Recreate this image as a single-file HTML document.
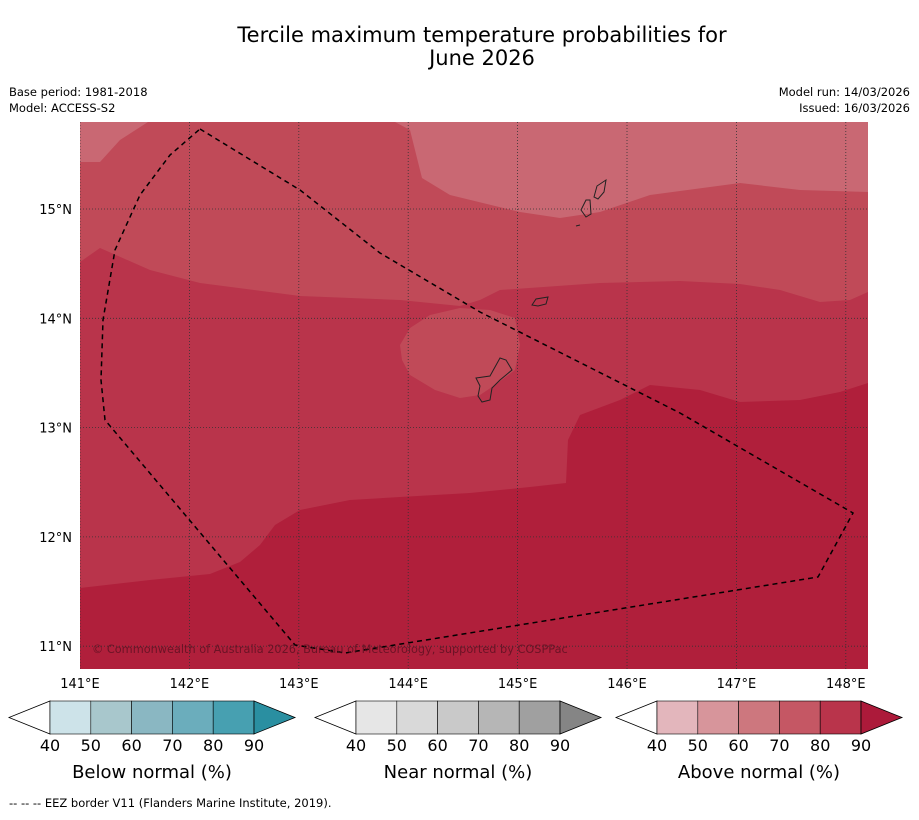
<!DOCTYPE html>
<html><head><meta charset="utf-8"><style>
body{margin:0;background:#fff;font-family:"DejaVu Sans","Liberation Sans",sans-serif;}
svg text{font-family:"DejaVu Sans","Liberation Sans",sans-serif;}
</style></head><body>
<svg id="s" width="919" height="816" xmlns="http://www.w3.org/2000/svg">
<rect width="919" height="816" fill="#fff"/>
<text x="482" y="42" font-size="21" text-anchor="middle">Tercile maximum temperature probabilities for</text>
<text x="482" y="65" font-size="21" text-anchor="middle">June 2026</text>
<text x="9" y="96" font-size="11.5">Base period: 1981-2018</text>
<text x="9" y="112" font-size="11.5">Model: ACCESS-S2</text>
<text x="910" y="96" font-size="11.5" text-anchor="end">Model run: 14/03/2026</text>
<text x="910" y="112" font-size="11.5" text-anchor="end">Issued: 16/03/2026</text>
<defs><clipPath id="mc"><rect x="80" y="122" width="788" height="547"/></clipPath></defs>
<g clip-path="url(#mc)">
<rect x="80" y="122" width="788" height="547" fill="#b9344b"/>
<polygon fill="#c04a58" points="80,122 868,122 868,292 850,300 820,302 780,290 740,284 680,281 600,283 500,290 480,300 460,306 400,300 300,296 200,283 150,270 100,248 80,262"/>
<polygon fill="#c04a58" points="400,345 410,328 430,315 460,308 490,310 515,318 520,345 515,370 495,385 480,395 460,398 435,390 410,375 402,360"/>
<polygon fill="#c96873" points="80,122 148,122 120,140 100,162 80,162"/>
<polygon fill="#c96873" points="395,122 410,130 422,178 450,195 520,212 560,218 600,212 650,195 740,183 800,190 868,192 868,122"/>
<polygon fill="#b01f3b" points="80,588 150,580 210,574 240,562 260,545 275,525 300,510 350,500 400,497 470,493 530,487 566,483 568,440 580,415 620,400 650,385 700,390 740,402 800,400 840,392 868,383 868,669 80,669"/>
<g id="grid"></g>
<polyline fill="none" stroke="#000" stroke-width="1.5" stroke-dasharray="5,4" points="200,129 300,190 380,253 480,312 680,413 853,513 818,577 345,653 295,645 105,420 101,380 103,320 115,250 140,195 170,155 200,129"/>
<g fill="none" stroke="#222" stroke-width="1">
<path d="M476,378 L490,376 L500,358 L506,360 L512,370 L500,380 L492,388 L490,400 L482,402 L478,396 L480,386 Z"/>
<path d="M532,305 L536,299 L548,297 L546,304 L538,306 Z"/>
<path d="M581,210 L586,200 L590,200 L591,214 L586,217 Z"/>
<path d="M594,197 L597,186 L606,180 L604,192 L598,199 Z"/>
<path d="M576,226 L580,225"/>
</g>
<text x="92" y="653" font-size="11.3" fill="#5a1020" fill-opacity="0.8">© Commonwealth of Australia 2026, Bureau of Meteorology, supported by COSPPac</text>
</g>
<g id="axes"></g>
<g id="cbars"></g>
<text x="9" y="807" font-size="11.5">--  --  -- EEZ border V11 (Flanders Marine Institute, 2019).</text>
</svg>
<script>
const lonTicks=[141,142,143,144,145,146,147,148];
const latTicks=[15,14,13,12,11];
const levels=[40,50,60,70,80,90];
const belowColors=["#cde3e9","#a8c7cc","#8ab7c2","#6badbc","#47a0b1","#2a8fa1"];
const nearColors=["#e6e6e6","#d9d9d9","#c9c9c9","#b6b6b6","#a0a0a0","#858585"];
const aboveColors=["#e3b6bc","#d7959b","#cd777e","#c55764","#b9344b","#ac1a3a"];
const NS="http://www.w3.org/2000/svg";
const xLon=l=>80+(l-141)*109.4;
const yLat=l=>209+(15-l)*109.3;
function mk(t,a,p){const e=document.createElementNS(NS,t);for(const k in a)e.setAttribute(k,a[k]);p.appendChild(e);return e;}
const grid=document.getElementById('grid'),axes=document.getElementById('axes');
lonTicks.forEach(l=>{const x=xLon(l);
 const g=mk('line',{x1:x,x2:x,y1:122,y2:669,stroke:'#333','stroke-width':0.8,'stroke-dasharray':'1,2'},grid);
 
 
 const t=mk('text',{x:x,y:688,'font-size':13,'text-anchor':'middle'},axes);t.textContent=l+'°E';
 
 });
latTicks.forEach(l=>{const y=yLat(l);
 const g=mk('line',{x1:80,x2:868,y1:y,y2:y,stroke:'#333','stroke-width':0.8,'stroke-dasharray':'1,2'},grid);
 
 
 const t=mk('text',{x:72,y:y+5,'font-size':13,'text-anchor':'end'},axes);t.textContent=l+'°N';
 
 });
const cb=document.getElementById('cbars');
const bars=[[9,belowColors,'Below normal (%)','below'],[315,nearColors,'Near normal (%)','near'],[616,aboveColors,'Above normal (%)','above']];
bars.forEach(([x0,cols,title,key])=>{
 const y0=701,h=33,tw=41,bw=40.8,g=mk('g',{},cb);
 
 
 const xs=v=>x0+tw+(v-levels[0])/10*bw;
 const lt=mk('polygon',{points:`${x0},${y0+h/2} ${x0+tw},${y0} ${x0+tw},${y0+h}`,fill:'#fff',stroke:'#000','stroke-width':0.8},g);
 
 
 for(let i=0;i<levels.length-1;i++){
  const r=mk('rect',{x:xs(levels[i]),y:y0,width:xs(levels[i+1])-xs(levels[i]),height:h,fill:cols[i],stroke:'#000','stroke-width':0.6},g);
  
  }
 const xe=xs(levels[levels.length-1]);
 const rt=mk('polygon',{points:`${xe},${y0} ${xe+tw},${y0+h/2} ${xe},${y0+h}`,fill:cols[5],stroke:'#000','stroke-width':0.8},g);
 
 
 levels.forEach(v=>{const t=mk('text',{x:xs(v),y:751,'font-size':16,'text-anchor':'middle'},g);t.textContent=v;
  
  });
 const t=mk('text',{x:x0+143,y:778,'font-size':18,'text-anchor':'middle'},g);t.textContent=title;
 
 
});
</script>
</body></html>
